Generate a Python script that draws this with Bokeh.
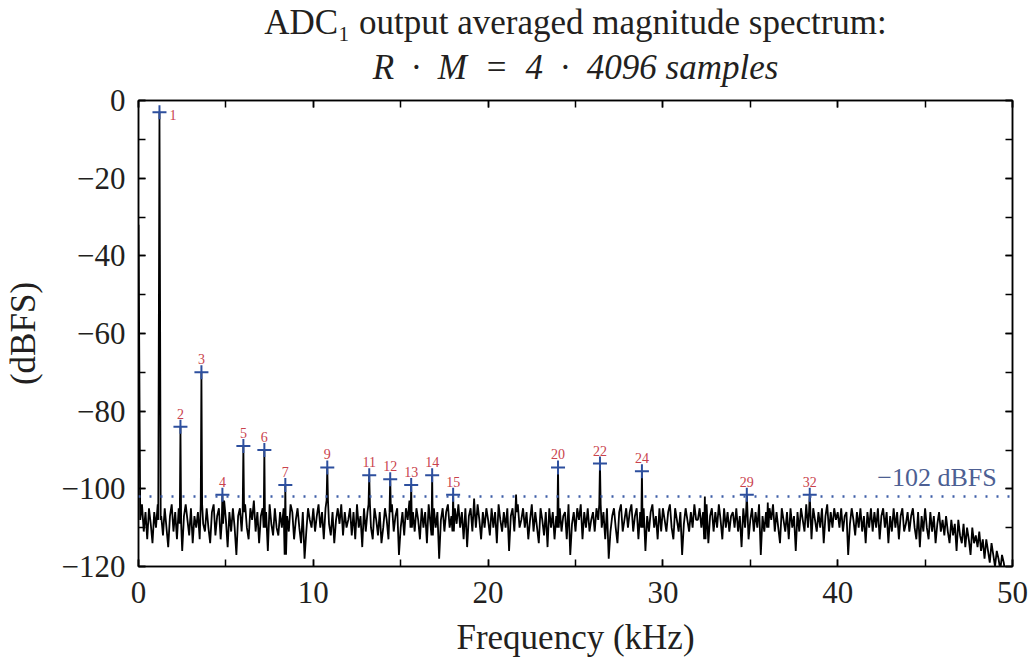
from bokeh.plotting import figure
from bokeh.models import (ColumnDataSource, LinearAxis, SingleIntervalTicker, Title,
                          CustomJSTickFormatter, Span)
from bokeh.core.properties import value
from bokeh.embed import file_html
from bokeh.resources import INLINE

# ---------------- data ----------------
bin_khz = 0.1
f0_khz = 1.2
ref_level_db = -102

# averaged noise floor, one value per 0.1 kHz bin (0.0 ... 49.9 kHz)
noise_db = [
    -32, -108, -104, -111, -106, -113, -105, -109, -114, -106, -110, -104, -108, -107, -112, -105, -110, -115, -107, -104,
    -111, -106, -113, -105, -109, -116, -107, -104, -108, -112, -105, -114, -107, -110, -106, -113, -104, -109, -111, -105,
    -110, -114, -106, -104, -112, -107, -105, -113, -109, -103, -108, -115, -106, -111, -105, -110, -117, -107, -105, -111,
    -106, -104, -110, -113, -105, -108, -103, -111, -106, -114, -107, -105, -110, -106, -116, -104, -109, -112, -105, -110,
    -112, -106, -110, -105, -117, -107, -111, -104, -106, -113, -108, -105, -110, -114, -106, -118, -111, -105, -108, -110,
    -105, -111, -107, -104, -110, -106, -113, -105, -103, -109, -112, -106, -114, -108, -105, -109, -104, -112, -106, -110,
    -108, -105, -112, -106, -113, -104, -110, -107, -115, -105, -111, -106, -104, -110, -113, -105, -108, -112, -106, -114,
    -110, -105, -108, -113, -106, -104, -111, -107, -105, -117, -110, -106, -112, -105, -108, -103, -110, -106, -111, -105,
    -108, -113, -105, -110, -106, -114, -104, -109, -112, -105, -110, -106, -118, -108, -105, -111, -106, -104, -110, -107,
    -111, -105, -109, -104, -110, -106, -113, -105, -115, -107, -105, -111, -106, -110, -104, -108, -113, -106, -110, -105,
    -108, -112, -105, -110, -106, -114, -104, -108, -111, -106, -110, -105, -116, -107, -105, -111, -106, -104, -110, -108,
    -105, -110, -106, -113, -108, -104, -111, -106, -110, -114, -105, -108, -112, -106, -115, -105, -110, -106, -113, -107,
    -110, -105, -111, -107, -106, -113, -104, -117, -109, -106, -111, -105, -108, -104, -113, -106, -110, -105, -111, -108,
    -106, -111, -105, -108, -104, -110, -106, -113, -105, -118, -111, -107, -105, -110, -114, -106, -104, -111, -108, -105,
    -110, -106, -104, -111, -107, -105, -113, -106, -110, -105, -116, -107, -111, -106, -104, -110, -107, -113, -105, -111,
    -105, -108, -111, -106, -104, -110, -113, -105, -108, -111, -106, -117, -109, -105, -108, -111, -106, -110, -104, -108,
    -108, -105, -110, -106, -113, -104, -114, -107, -105, -111, -106, -110, -104, -108, -113, -105, -110, -106, -111, -107,
    -106, -110, -105, -111, -107, -115, -105, -110, -106, -113, -108, -105, -111, -106, -110, -104, -117, -107, -111, -106,
    -110, -105, -108, -104, -111, -106, -110, -114, -105, -108, -111, -106, -113, -105, -110, -107, -116, -106, -111, -105,
    -108, -111, -104, -110, -106, -113, -105, -108, -111, -106, -110, -105, -114, -107, -104, -111, -106, -110, -105, -108,
    -106, -110, -105, -111, -107, -106, -117, -109, -105, -108, -112, -106, -110, -105, -111, -107, -114, -106, -110, -105,
    -111, -106, -110, -105, -113, -107, -105, -110, -106, -114, -107, -111, -105, -110, -106, -113, -107, -105, -111, -109,
    -106, -111, -107, -105, -110, -113, -106, -115, -107, -111, -105, -110, -113, -106, -111, -107, -114, -109, -106, -111,
    -108, -112, -107, -111, -114, -108, -112, -109, -116, -108, -112, -114, -109, -115, -110, -113, -117, -110, -114, -112,
    -115, -111, -116, -113, -118, -113, -116, -119, -114, -117, -120, -116, -118, -121, -117, -119, -122, -120, -123, -125,
]

harm_n = [1, 2, 3, 4, 5, 6, 7, 9, 11, 12, 13, 14, 15, 20, 22, 24, 29, 32]
harm_db = [-3, -84, -70, -101.5, -89, -90, -99, -94.5, -96.5, -97.5, -99,
           -96.5, -101.5, -94.5, -93.5, -95.5, -101.5, -101.5]

spur_khz = [19.2, 21.6, 32.4, 36.0]
spur_db = [-102.5, -101.5, -102.0, -103.5]

title_line1 = "ADC\u2081 output averaged magnitude spectrum:"
title_line2 = "R\u2002\u00b7\u2002M\u2002=\u20024\u2002\u00b7\u20024096 samples"
x_label = "Frequency (kHz)"
y_label = "(dBFS)"

# ---------------- build spectrum ----------------
harm_khz = [n * f0_khz for n in harm_n]
peaks = {}
for f, d in zip(harm_khz, harm_db):
    peaks[round(f / bin_khz)] = d
for f, d in zip(spur_khz, spur_db):
    peaks[round(f / bin_khz)] = d
fund_idx = round(f0_khz / bin_khz)

fx, fy = [], []
for i, nd in enumerate(noise_db):
    f = i * bin_khz
    if i in peaks:
        hw = 0.07 if i == fund_idx else 0.04
        fx += [f - hw, f, f + hw]
        fy += [nd, peaks[i], nd]
    else:
        fx.append(f)
        fy.append(nd)

FONT = "Liberation Serif"
TXT = "#231f20"
RED = "#c9424c"
BLUE = "#2d4f9e"

p = figure(width=1031, height=662, x_range=(0, 50), y_range=(-120, 0),
           output_backend="svg", toolbar_location=None, title=None,
           min_border_left=132, min_border_right=19, min_border_top=10,
           min_border_bottom=96)
p.xgrid.visible = False
p.ygrid.visible = False
p.outline_line_color = "black"
p.outline_line_width = 1.5
p.outline_line_alpha = 1.0
p.background_fill_color = "white"
p.border_fill_color = "white"

minus_fmt = CustomJSTickFormatter(code="return tick < 0 ? '\\u2212' + Math.abs(tick) : tick.toString();")

def style_axis(ax, labels=True):
    ax.major_tick_in = 7
    ax.major_tick_out = 0
    ax.minor_tick_in = 7
    ax.minor_tick_out = 0
    ax.major_tick_line_width = 1.5
    ax.minor_tick_line_width = 1.5
    ax.major_tick_line_color = "black"
    ax.minor_tick_line_color = "black"
    ax.axis_line_color = "black"
    ax.axis_line_width = 1.5
    ax.major_label_text_font = FONT
    ax.major_label_text_font_size = "31px"
    ax.major_label_text_line_height = 1.0
    ax.major_label_text_color = TXT
    ax.axis_label_text_font = FONT
    ax.axis_label_text_font_size = "35px"
    ax.axis_label_text_line_height = 1.0
    ax.axis_label_text_font_style = "normal"
    ax.axis_label_text_color = TXT
    ax.formatter = minus_fmt
    if not labels:
        ax.major_label_text_alpha = 0
        ax.major_label_text_font_size = "0px"
        ax.major_label_standoff = 0

xb = p.xaxis[0]
xb.ticker = SingleIntervalTicker(interval=10, num_minor_ticks=2)
xb.axis_label = x_label
style_axis(xb)
xb.major_label_standoff = 15
xb.axis_label_standoff = 12

yl = p.yaxis[0]
yl.ticker = SingleIntervalTicker(interval=20, num_minor_ticks=2)
yl.axis_label = y_label
style_axis(yl)
yl.major_label_standoff = 13
yl.axis_label_standoff = 16

# top axis: ticks only; an invisible label just reserves a little space
xt = LinearAxis(ticker=SingleIntervalTicker(interval=10, num_minor_ticks=2))
style_axis(xt, labels=False)
xt.major_label_text_font_size = "10px"
xt.major_label_standoff = 0
xt.axis_label = "."
xt.axis_label_text_alpha = 0
xt.axis_label_text_font_size = "10px"
xt.axis_label_standoff = 0
p.add_layout(xt, "above")
yr = LinearAxis(ticker=SingleIntervalTicker(interval=20, num_minor_ticks=2))
style_axis(yr, labels=False)
p.add_layout(yr, "right")

sub = Title(text=title_line2, align="center",
            text_font=FONT, text_font_size="35px", text_font_style="italic",
            text_line_height=0.8, text_color=TXT, standoff=8)
p.add_layout(sub, "above")
main = Title(text=title_line1, align="center",
             text_font=FONT, text_font_size="35px", text_font_style="normal",
             text_line_height=0.8, text_color=TXT, standoff=0)
p.add_layout(main, "above")

# reference level
p.add_layout(Span(location=ref_level_db, dimension="width", line_color="#3f5fa8",
                  line_width=2.5, line_dash="2 9"))

# spectrum
p.line(fx, fy, line_color="black", line_width=1.8)

# harmonic markers and labels
hsrc = ColumnDataSource(dict(x=harm_khz, y=harm_db))
p.scatter("x", "y", source=hsrc, marker="cross", size=14, line_color=BLUE,
          line_width=2)

first = ColumnDataSource(dict(x=harm_khz[:1], y=harm_db[:1], t=[str(harm_n[0])]))
rest = ColumnDataSource(dict(x=harm_khz[1:], y=harm_db[1:], t=[str(n) for n in harm_n[1:]]))
p.text("x", "y", text="t", source=first, text_font=value(FONT), text_font_size="14px",
       text_color=RED, text_align="left", text_baseline="middle", x_offset=10, y_offset=3)
p.text("x", "y", text="t", source=rest, text_font=value(FONT), text_font_size="14px",
       text_color=RED, text_align="center", text_baseline="bottom", y_offset=-8)

p.text([49.1], [ref_level_db], text=["\u2212102 dBFS"], text_font=value(FONT),
       text_font_size="26px", text_color="#4d5f93", text_align="right",
       text_baseline="bottom", y_offset=-5)

open("out.html", "w").write(file_html(p, INLINE))
